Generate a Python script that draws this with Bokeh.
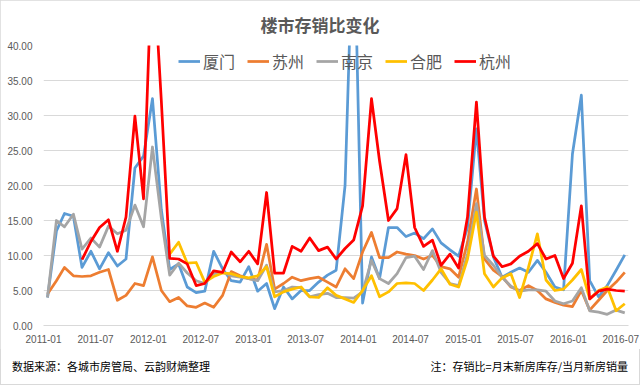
import numpy as np
from datetime import datetime, timedelta
from bokeh.plotting import figure
from bokeh.layouts import column
from bokeh.models import (ColumnDataSource, Range1d, MonthsTicker, DatetimeTickFormatter,
                          NumeralTickFormatter, FixedTicker, Legend, LegendItem, Div)
from bokeh.embed import file_html
from bokeh.resources import INLINE

# ---- data ----
months = [f"{y}-{m:02d}" for y in range(2011, 2017) for m in range(1, 13)][:67]

xiamen = [4.0, 13.5, 16.0, 15.6, 8.3, 10.6, 8.1, 10.4, 8.5, 9.5, 22.5, 24.2,
          32.4, 16.5, 8.0, 8.8, 5.5, 4.7, 4.9, 10.6, 8.1, 6.4, 6.2, 8.4,
          4.9, 6.0, 2.4, 5.5, 3.8, 5.0, 5.0, 6.2, 7.2, 7.9, 20.0, 60.0,
          3.2, 9.8, 6.7, 14.0, 14.0, 12.7, 13.2, 12.4, 13.8, 11.8, 10.8, 9.9,
          14.0, 28.1, 15.0, 9.8, 6.9, 7.6, 8.2, 7.6, 9.3, 7.6, 5.5, 5.1,
          24.5, 32.9, 6.4, 4.1, 5.7, 7.9, 10.1]
suzhou = [4.5, 6.4, 8.3, 7.1, 7.0, 7.1, 7.6, 8.0, 3.6, 4.3, 6.0, 5.7,
          9.8, 5.0, 3.4, 4.0, 2.8, 2.6, 3.2, 2.6, 4.3, 7.7, 7.1, 6.7,
          6.5, 11.6, 5.2, 6.0, 6.9, 6.4, 6.7, 6.9, 6.2, 5.5, 8.1, 6.7,
          10.5, 13.3, 9.7, 9.7, 10.5, 10.2, 10.0, 9.5, 10.0, 8.4, 8.1, 6.9,
          11.9, 19.5, 9.5, 7.9, 7.0, 5.5, 5.0, 5.7, 5.0, 3.8, 3.3, 2.9,
          2.7, 5.0, 2.2, 3.6, 5.0, 6.2, 7.6]
nanjing = [4.0, 15.0, 14.1, 15.9, 10.9, 12.5, 11.2, 14.2, 13.1, 13.6, 17.2, 14.1,
           25.5, 15.3, 7.2, 8.9, 7.5, 6.4, 6.0, 7.4, 7.6, 7.1, 6.9, 6.7,
           6.4, 8.6, 4.8, 5.0, 5.5, 5.4, 4.1, 4.4, 4.6, 4.0, 4.0, 3.9,
           4.8, 9.3, 6.7, 6.0, 7.4, 9.7, 9.9, 8.0, 10.7, 7.6, 6.0, 5.7,
           10.2, 17.4, 10.0, 8.6, 6.9, 5.6, 4.9, 5.1, 5.1, 4.9, 3.5, 3.1,
           3.5, 5.4, 2.1, 1.9, 1.6, 2.2, 1.8]
hefei = [None] * 14 + [
         10.2, 11.9, 8.9, 9.0, 6.2, 7.0, 7.5, 7.4, 7.0, 6.8,
         7.1, 8.4, 4.1, 4.8, 5.2, 5.5, 4.1, 4.0, 5.4, 4.3, 3.8, 3.3,
         5.0, 7.1, 4.1, 4.8, 6.0, 6.1, 6.0, 5.0, 6.5, 8.1, 5.9, 5.5,
         9.5, 16.2, 7.4, 5.5, 6.8, 7.4, 4.0, 8.3, 13.1, 6.5, 5.0, 5.2,
         6.5, 8.0, 3.8, 5.0, 5.5, 2.1, 3.1]
hangzhou = [None] * 4 + [
            9.4, 12.0, 14.0, 15.1, 10.6, 15.5, 29.9, 18.1,
            54.0, 32.0, 9.6, 9.5, 8.8, 5.7, 6.0, 7.8, 7.6, 10.5, 9.1, 10.6,
            8.8, 19.0, 7.5, 7.5, 11.3, 10.6, 12.5, 10.7, 11.2, 9.5, 11.0, 12.2,
            17.1, 32.4, 23.5, 15.0, 16.7, 24.4, 14.0, 11.3, 12.2, 8.6, 10.2, 8.2,
            15.5, 31.9, 15.5, 9.9, 8.4, 8.8, 9.9, 10.6, 11.7, 9.5, 10.0, 6.7,
            8.9, 17.1, 3.8, 4.9, 5.2, 5.0, 4.9]

series_names = ["厦门", "苏州", "南京", "合肥", "杭州"]
series_values = [xiamen, suzhou, nanjing, hefei, hangzhou]
series_colors = ["#5B9BD5", "#ED7D31", "#A5A5A5", "#FFC000", "#FF0000"]
y_ticks = [0, 5, 10, 15, 20, 25, 30, 35, 40]

title_text = "楼市存销比变化"
source_text = "数据来源：各城市房管局、云韵财熵整理"
note_text = "注：存销比=月末新房库存/当月新房销量"

# points sit mid-month, ticks at month start
x_dates = [datetime.strptime(m, "%Y-%m") + timedelta(days=14) for m in months]

CJK = "Noto Sans CJK SC"
LAT = "Liberation Sans"

p = figure(width=640, height=349, output_backend="svg", toolbar_location=None,
           x_axis_type="datetime",
           x_range=Range1d(datetime(2011, 1, 1), datetime(2016, 7, 28)),
           y_range=Range1d(0, 40),
           min_border_left=43, min_border_right=12, min_border_top=45, min_border_bottom=24)
p.background_fill_color = "white"
p.border_fill_color = "white"
p.outline_line_color = None

p.title.text = title_text
p.title.align = "left"
p.title.offset = 217
p.title.vertical_align = "middle"
p.title.standoff = 15
p.title.text_font = CJK
p.title.text_font_size = "17px"
p.title.text_font_style = "bold"
p.title.text_color = "#595959"

renderers = []
for name, vals, col in zip(series_names, series_values, series_colors):
    y = np.array([np.nan if v is None else v for v in vals], dtype=float)
    src = ColumnDataSource(dict(x=x_dates, y=y))
    r = p.line("x", "y", source=src, line_color=col, line_width=2.75, line_join="round")
    renderers.append(r)

# axes
p.xaxis.ticker = MonthsTicker(months=[0, 6])
p.xaxis.formatter = DatetimeTickFormatter(days="%Y-%m", months="%Y-%m", years="%Y-%m")
p.xaxis.axis_line_color = "#D9D9D9"
p.xaxis.major_tick_line_color = None
p.xaxis.minor_tick_line_color = None
p.xaxis.major_label_standoff = 3
p.xaxis.major_label_text_font = LAT
p.xaxis.major_label_text_font_size = "10px"
p.xaxis.major_label_text_color = "#595959"

p.yaxis.ticker = FixedTicker(ticks=y_ticks)
p.yaxis.formatter = NumeralTickFormatter(format="0.00")
p.yaxis.axis_line_color = None
p.yaxis.major_tick_line_color = None
p.yaxis.minor_tick_line_color = None
p.yaxis.major_label_standoff = 5
p.yaxis.major_label_text_font = LAT
p.yaxis.major_label_text_font_size = "10px"
p.yaxis.major_label_text_color = "#595959"

p.xgrid.grid_line_color = None
p.ygrid.grid_line_color = "#D9D9D9"
p.ygrid.grid_line_width = 1

# legend
legend = Legend(items=[LegendItem(label=n, renderers=[r]) for n, r in zip(series_names, renderers)],
                orientation="horizontal", location=(135, 252),
                glyph_width=22, glyph_height=20, label_standoff=3, spacing=12,
                padding=0, margin=0, label_height=20,
                label_text_font=CJK, label_text_font_size="16px", label_text_color="#595959",
                border_line_alpha=0, background_fill_alpha=0)
p.add_layout(legend)

# footer strip
foot_html = (
    '<div style="position:relative;width:640px;height:36px;'
    "font-family:'Noto Sans CJK SC',sans-serif;font-size:11px;line-height:16px;color:#000;\">"
    f'<span style="position:absolute;left:12px;top:9px;white-space:nowrap;">{source_text}</span>'
    f'<span style="position:absolute;right:12px;top:9px;white-space:nowrap;">{note_text}</span>'
    '</div>'
)
foot = Div(text=foot_html, width=640, height=36, styles={"margin": "0", "padding": "0"})

layout = column(p, foot, spacing=0,
                styles={"outline": "1px solid #D9D9D9", "outline-offset": "-1px"})
open("out.html", "w").write(file_html(layout, INLINE))
